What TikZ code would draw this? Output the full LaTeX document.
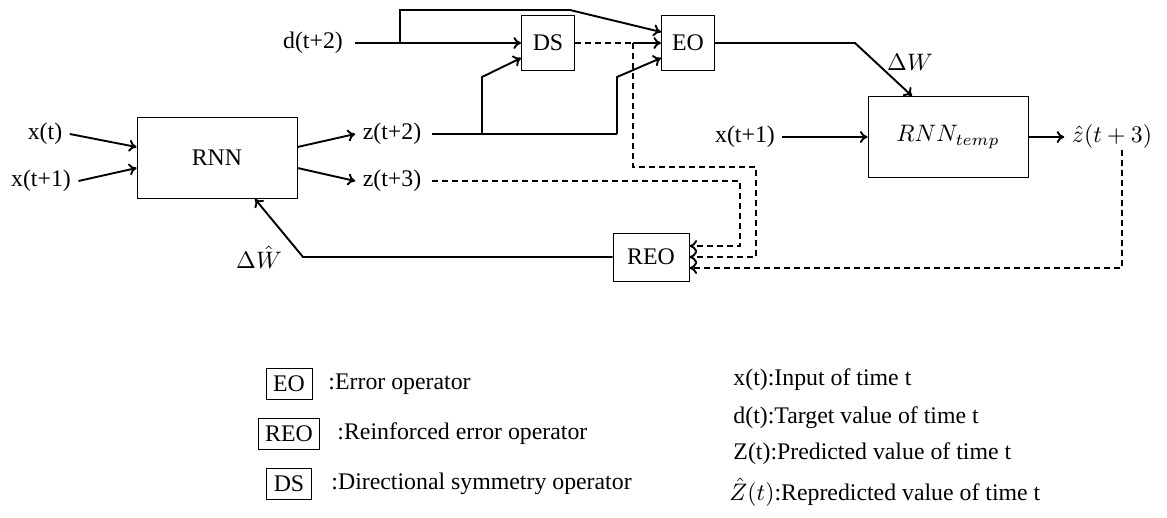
\documentclass[tikz,border=0pt]{standalone}
\usepackage{fontspec}
\setmainfont{Liberation Serif}
\usetikzlibrary{calc,arrows.meta}
\begin{document}
\begin{tikzpicture}[x=0.42pt,y=-0.42pt,
  font=\fontsize{10}{12}\selectfont,
  blk/.style={draw,thin,inner sep=0pt},
  lbl/.style={inner sep=3pt},
  conn/.style={thick},
  arr/.style={thick,-{To[length=3.2pt,width=5pt]}},
  dsh/.style={thick,dash pattern=on 2.6pt off 1.6pt},
  dsharr/.style={dsh,-{To[length=3.2pt,width=5pt]}},
  legbox/.style={draw,thin,inner sep=3pt}]
\useasboundingbox (0,0) rectangle (1167,517);

% blocks
\node[blk,minimum width={160*0.42pt},minimum height={81*0.42pt}] (rnn) at (217,158) {RNN};
\node[blk,minimum width={53*0.42pt},minimum height={55*0.42pt}] (ds) at (548,43) {DS};
\node[blk,minimum width={53*0.42pt},minimum height={55*0.42pt}] (eo) at (688,43) {EO};
\node[blk,minimum width={160*0.42pt},minimum height={81*0.42pt}] (rnnt) at (948,137) {$RNN_{temp}$};
\node[blk,minimum width={76*0.42pt},minimum height={48*0.42pt}] (reo) at (651,257) {REO};

% signal labels
\node[lbl] (xt) at (45,134) {x(t)};
\node[lbl] (xta) at (41,181) {x(t+1)};
\node[lbl] (z2) at (392,134) {z(t+2)};
\node[lbl] (z3) at (392,181) {z(t+3)};
\node[lbl] (d2) at (313,43) {d(t+2)};
\node[lbl] (xtb) at (745,137) {x(t+1)};
\node[lbl] (zh) at (1112,137) {$\hat{z}(t+3)$};
\node[lbl] (dw) at (910,62) {$\Delta W$};
\node[lbl] (dwh) at (259,257) {$\Delta\hat{W}$};

% RNN inputs and outputs
\draw[arr] (xt.east) -- ($(rnn.west)+(0,-11)$);
\draw[arr] (xta.east) -- ($(rnn.west)+(0,10)$);
\draw[arr] ($(rnn.east)+(0,-11)$) -- (z2.west);
\draw[arr] ($(rnn.east)+(0,10)$) -- (z3.west);

% target d(t+2) to DS and EO
\coordinate (bd) at (400,43);
\draw[conn] ($(d2.east)+(5,0)$) -- (bd);
\draw[arr] (bd) -- (ds.west);
\draw[arr] (bd) -- (400,10) -- (570,10) -- ($(eo.west)+(0,-11)$);

% prediction z(t+2) to DS and EO
\coordinate (bz1) at (482,134);
\coordinate (bz2) at (617,134);
\draw[conn] ($(z2.east)+(3,0)$) -- (bz2);
\draw[arr] (bz1) -- (482,77) -- ($(ds.west)+(0,15)$);
\draw[arr] (bz2) -- (617,77) -- ($(eo.west)+(0,15)$);

% DS output
\coordinate (bds) at (633,43);
\draw[dsh] (ds.east) -- (bds);
\draw[arr] (bds) -- (eo.west);
\draw[dsharr] (bds) -- (633,167) -- (756,167) -- (756,257) -- (reo.east);

% z(t+3) to REO
\draw[dsharr] ($(z3.east)+(3,0)$) -- (740,181) -- (740,246) -- ($(reo.east)+(0,-11)$);

% EO to RNN_temp
\draw[arr] (eo.east) -- (855,43) -- ($(rnnt.north)+(-36,0)$);
\draw[arr] (xtb.east) -- (rnnt.west);
\draw[arr] (rnnt.east) -- (zh.west);

% repredicted output back to REO
\coordinate (zd) at (1122,150);
\draw[dsharr] (zd) -- (1122,268) -- ($(reo.east)+(0,11)$);

% REO back to RNN
\draw[arr] (reo.west) -- (303,257) -- ($(rnn.south)+(38,0)$);

% legend: operators
\node[legbox] (lEO) at (289,384) {EO};
\node[anchor=west,inner sep=0pt] (tEO) at (328,384) {:Error operator};
\node[legbox] (lREO) at (289,434) {REO};
\node[anchor=west,inner sep=0pt] (tREO) at (337,434) {:Reinforced error operator};
\node[legbox] (lDS) at (289,484) {DS};
\node[anchor=west,inner sep=0pt] (tDS) at (331,484) {:Directional symmetry operator};

% legend: signals
\node[anchor=west,inner sep=0pt] (n1) at (733,380) {x(t):Input of time t};
\node[anchor=west,inner sep=0pt] (n2) at (733,418) {d(t):Target value of time t};
\node[anchor=west,inner sep=0pt] (n3) at (733,454) {Z(t):Predicted value of time t};
\node[anchor=west,inner sep=0pt] (n4) at (729,492) {$\hat{Z}(t)$:Repredicted value of time t};
\end{tikzpicture}
\end{document}
